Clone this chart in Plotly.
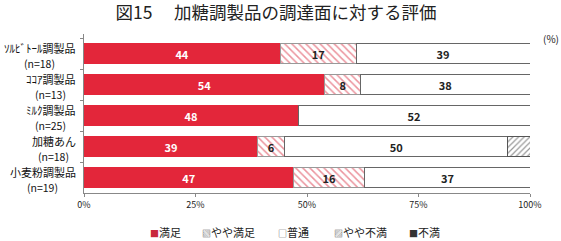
import unicodedata
import plotly.graph_objects as go

categories = ["ｿﾙﾋﾞﾄｰﾙ調製品", "ｺｺｱ調製品", "ﾐﾙｸ調製品", "加糖あん", "小麦粉調製品"]
sample_sizes = ["(n=18)", "(n=13)", "(n=25)", "(n=18)", "(n=19)"]
series_names = ["満足", "やや満足", "普通", "やや不満", "不満"]
manzoku = [44, 54, 48, 39, 47]
yaya_manzoku = [17, 8, 0, 6, 16]
futsu = [39, 38, 52, 50, 37]
yaya_fuman = [0, 0, 0, 6, 0]
fuman = [0, 0, 0, 0, 0]
x_ticks = [0, 25, 50, 75, 100]
x_tick_labels = ["0%", "25%", "50%", "75%", "100%"]

font = "Noto Sans CJK JP"
W, H = 561, 241
ML, MR, MT, MB = 84, 31, 34, 48
LABEL_SIZE = 11
values = [manzoku, yaya_manzoku, futsu, yaya_fuman, fuman]
styles = [
    dict(color="#e3263a", line=dict(color="#e3263a", width=0.5)),
    dict(color="white", line=dict(color="#999999", width=1),
         pattern=dict(shape="\\", fgcolor="#d8283c", bgcolor="white", size=5, solidity=0.3)),
    dict(color="white", line=dict(color="#666666", width=1)),
    dict(color="white", line=dict(color="#555555", width=1),
         pattern=dict(shape="/", fgcolor="#333333", bgcolor="white", size=4, solidity=0.3)),
    dict(color="#222222", line=dict(color="#222222", width=1)),
]
text_colors = ["white", "#222222", "#222222", "#222222", "white"]
legend_glyphs = ["■", "▧", "□", "▨", "■"]
legend_colors = ["#c8283c", "#555555", "#555555", "#555555", "#333333"]
legend_x_px = [148, 200, 276, 332, 407]


def px_to_paper_x(px):
    return (px - ML) / (W - ML - MR)


def px_to_paper_y(py):
    return (H - MB - py) / (H - MT - MB)


def text_width(s, size):
    w = 0.0
    for ch in s:
        if unicodedata.east_asian_width(ch) in ("W", "F"):
            w += size
        else:
            w += size * 0.5
    return w


fig = go.Figure()
for name, vals, st, tc in zip(series_names, values, styles, text_colors):
    fig.add_trace(go.Bar(
        y=categories, x=vals, name=name, orientation="h", marker=st,
        text=[str(v) if v > 0 else "" for v in vals], textposition="inside",
        insidetextanchor="middle", textangle=0,
        textfont=dict(color=tc, size=11, family=font, weight="bold"),
        constraintext="none", cliponaxis=False, showlegend=False,
    ))

fig.update_layout(
    barmode="stack", bargap=0.34,
    width=W, height=H,
    margin=dict(l=ML, r=MR, t=MT, b=MB),
    paper_bgcolor="white", plot_bgcolor="white",
    font=dict(family=font, size=10, color="#222222"),
    title=dict(text="図15　 加糖調製品の調達面に対する評価", xref="container", x=276 / W, xanchor="center",
               yref="container", y=1 - 13 / H, yanchor="middle",
               font=dict(size=17.5, family=font, color="#222222")),
    showlegend=False,
    uniformtext=dict(minsize=8, mode="show"),
)
fig.update_xaxes(range=[0, 100], tickvals=x_ticks, ticktext=x_tick_labels,
                 showgrid=False, zeroline=False, showline=True, linecolor="#888888", linewidth=1,
                 ticks="outside", ticklen=3, tickcolor="#888888",
                 tickfont=dict(size=9, family=font))
fig.update_yaxes(autorange="reversed", showgrid=False, showline=True, linecolor="#888888",
                 linewidth=1, ticks="outside", tickson="boundaries", ticklen=3, tickcolor="#888888",
                 showticklabels=False)

for cat, n in zip(categories, sample_sizes):
    w1 = text_width(cat, LABEL_SIZE)
    fig.add_annotation(text=cat, x=0, xref="paper", y=cat, yref="y",
                       xanchor="right", yanchor="middle", xshift=-6, yshift=5.5,
                       showarrow=False, font=dict(size=LABEL_SIZE, family=font, color="#111111"))
    fig.add_annotation(text=n, x=0, xref="paper", y=cat, yref="y",
                       xanchor="center", yanchor="middle", xshift=-6 - w1 / 2 - 3, yshift=-10,
                       showarrow=False, font=dict(size=LABEL_SIZE - 0.5, family=font, color="#111111"))

fig.add_annotation(text="(%)", x=px_to_paper_x(551), y=px_to_paper_y(38), xref="paper", yref="paper",
                   xanchor="center", yanchor="middle", showarrow=False, font=dict(size=10, family=font))

for name, g, c, px in zip(series_names, legend_glyphs, legend_colors, legend_x_px):
    fig.add_annotation(text=f"<span style='color:{c};font-size:9px'>{g}</span>{name}",
                       x=px_to_paper_x(px), y=px_to_paper_y(232), xref="paper", yref="paper",
                       xanchor="left", yanchor="middle", showarrow=False,
                       font=dict(size=11, family=font, color="#222222"))

fig.write_html("out.html")
